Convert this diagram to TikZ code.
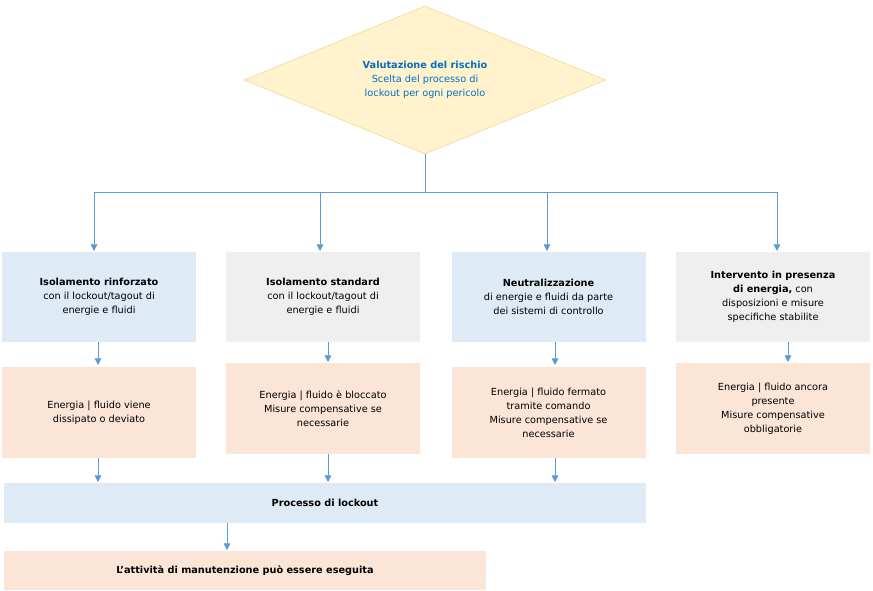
\documentclass[tikz,border=0pt]{standalone}
\usepackage{fontspec}
\setmainfont{DejaVu Sans}
\usetikzlibrary{shapes.geometric,arrows.meta}
\definecolor{lblue}{HTML}{DEEAF6}
\definecolor{lgray}{HTML}{EFEFEF}
\definecolor{lorange}{HTML}{FBE5D6}
\definecolor{lyellow}{HTML}{FFF2CC}
\definecolor{dyellow}{HTML}{F2D68F}
\definecolor{arr}{HTML}{5B9BD5}
\definecolor{tblue}{HTML}{0070C0}
\tikzset{
    box/.style={draw=none, minimum width=145.5pt, align=center,
        font=\fontsize{7.3}{10.5}\selectfont, inner sep=1pt},
    arrow/.style={draw=arr, -{Triangle[length=5pt,width=5pt]}},
    line/.style={draw=arr}
}

\begin{document}
\begin{tikzpicture}[x=0.75pt,y=-0.75pt]
\useasboundingbox (0,0) rectangle (873,591);

\node[diamond, draw=dyellow, fill=lyellow, aspect=2.45, minimum width=271.5pt,
    minimum height=111pt, inner sep=0pt, align=center, text=tblue,
    font=\fontsize{7.3}{10.5}\selectfont] (risk) at (425,80)
    {\textbf{Valutazione del rischio}\\Scelta del processo di\\lockout per ogni pericolo};

\node[box, fill=lblue, minimum height=67.5pt] (iso1) at (99,297)
    {\textbf{Isolamento rinforzato}\\con il lockout/tagout di\\energie e fluidi};
\node[box, fill=lgray, minimum height=67.5pt] (iso2) at (323,297)
    {\textbf{Isolamento standard}\\con il lockout/tagout di\\energie e fluidi};
\node[box, fill=lblue, minimum height=67.5pt] (neu) at (548.5,297)
    {\textbf{Neutralizzazione}\\di energie e fluidi da parte\\dei sistemi di controllo};
\node[box, fill=lgray, minimum height=67.5pt] (int) at (773,297)
    {\textbf{Intervento in presenza}\\\textbf{di energia,} con\\disposizioni e misure\\specifiche stabilite};

\node[box, fill=lorange, minimum height=68pt] (en1) at (99,412.5)
    {Energia | fluido viene\\dissipato o deviato};
\node[box, fill=lorange, minimum height=68pt] (en2) at (323,408.5)
    {Energia | fluido è bloccato\\Misure compensative se\\necessarie};
\node[box, fill=lorange, minimum height=68pt] (en3) at (548.5,412.5)
    {Energia | fluido fermato\\tramite comando\\Misure compensative se\\necessarie};
\node[box, fill=lorange, minimum height=68pt] (en4) at (773,408.5)
    {Energia | fluido ancora\\presente\\Misure compensative\\obbligatorie};

\node[box, fill=lblue, minimum width=481.5pt, minimum height=30pt] (lock) at (325,503)
    {\textbf{Processo di lockout}};
\node[box, fill=lorange, minimum width=361.5pt, minimum height=29pt] (exec) at (245,570.5)
    {\textbf{L'attività di manutenzione può essere eseguita}};

% branching
\coordinate (fork) at (425,192);
\coordinate (fl) at (94,192);
\coordinate (fr) at (777,192);
\draw[line] (risk.south) -- (fork);
\draw[line] (fl) -- (fr);
\draw[arrow] (fl) -- (94,251);
\draw[arrow] (320,192) -- (320,251);
\draw[arrow] (547,192) -- (547,251);
\draw[arrow] (fr) -- (777,251);

\draw[arrow] (98,342) -- (98,365);
\draw[arrow] (328,342) -- (328,362);
\draw[arrow] (555,342) -- (555,365);
\draw[arrow] (788,342) -- (788,362);

\draw[arrow] (98,458) -- (98,482);
\draw[arrow] (328,454) -- (328,482);
\draw[arrow] (555,458) -- (555,482);

\draw[arrow] (lock.south -| 227,0) -- (227,550);
\end{tikzpicture}
\end{document}
